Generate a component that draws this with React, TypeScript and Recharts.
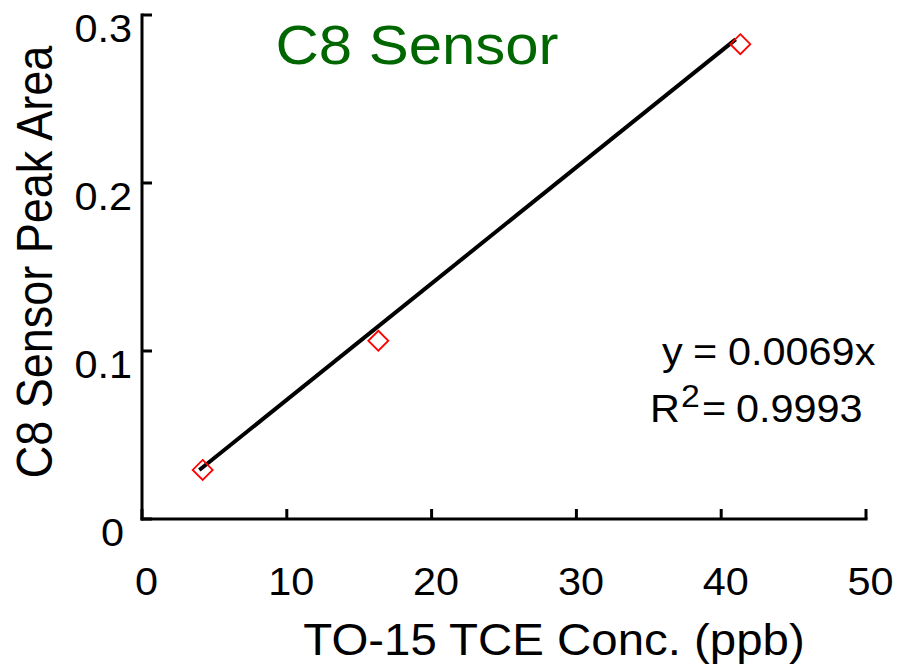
import React from 'react';
import { ComposedChart, XAxis, YAxis, Line, Scatter } from 'recharts';

const concentrations = [4.19, 16.32, 41.32];
const peakAreas = [0.0292, 0.1061, 0.2826];
const fitX = [3.96, 41.0];
const fitY = [0.0292, 0.2855];
const xTicks = [0, 10, 20, 30, 40, 50];
const yTicks = [0, 0.1, 0.2, 0.3];
const title = 'C8 Sensor';
const xLabel = 'TO-15 TCE Conc. (ppb)';
const yLabel = 'C8 Sensor Peak Area';
const eqLine = ['y', '=', '0.0069x'];
const r2Line = ['R', '2', '=', '0.9993'];

const points = concentrations.map((x, i) => ({ x, y: peakAreas[i] }));
const fitLine = fitX.map((x, i) => ({ x, y: fitY[i] }));

const FONT = '"Liberation Sans", Arial, Helvetica, sans-serif';
const SX = 1.09;

const T = ({ x, y, size, anchor = 'start', color = '#000', children }: any) => (
  <text
    transform={`translate(${x},${y}) scale(${SX},1)`}
    x={0}
    y={0}
    textAnchor={anchor}
    fontSize={size}
    fontFamily={FONT}
    fill={color}
  >
    {children}
  </text>
);

const XTick = (props: any) => {
  const { x, y, payload } = props;
  return (
    <g>
      <line x1={x} y1={y} x2={x} y2={y - 10} stroke="#000" strokeWidth={3} />
      <T x={x + 4.5} y={y + 76} size={38} anchor="middle">{String(payload.value)}</T>
    </g>
  );
};

const YTick = (props: any) => {
  const { x, y, payload } = props;
  const v = payload.value;
  const label = v === 0 ? '0' : String(Math.round(v * 10) / 10);
  const endX = v === 0 ? x - 18 : x - 10;
  return (
    <g>
      <line x1={x} y1={y} x2={x + 10} y2={y} stroke="#000" strokeWidth={3} />
      <T x={endX} y={y + 26.5} size={38} anchor="end">{label}</T>
    </g>
  );
};

const Diamond = (props: any) => {
  const { cx, cy } = props;
  const r = 10;
  return (
    <path
      d={`M${cx},${cy - r} L${cx + r},${cy} L${cx},${cy + r} L${cx - r},${cy} Z`}
      fill="none"
      stroke="#ff0000"
      strokeWidth={1.8}
    />
  );
};

export default function App() {
  return (
    <div style={{ position: 'absolute', left: 0, top: 0, width: 898, height: 668, background: '#fff' }}>
      <ComposedChart
        width={898}
        height={668}
        margin={{ top: 15, right: 32, bottom: 148, left: 141 }}
      >
        <XAxis
          type="number"
          dataKey="x"
          domain={[0, 50]}
          ticks={xTicks}
          height={1}
          tickSize={0}
          tickMargin={0}
          tickLine={false}
          axisLine={{ stroke: '#000', strokeWidth: 3, strokeLinecap: 'square' }}
          tick={<XTick />}
          interval={0}
          allowDataOverflow
        />
        <YAxis
          type="number"
          dataKey="y"
          domain={[0, 0.3]}
          ticks={yTicks}
          width={1}
          tickSize={0}
          tickMargin={0}
          tickLine={false}
          axisLine={{ stroke: '#000', strokeWidth: 3, strokeLinecap: 'square' }}
          tick={<YTick />}
          interval={0}
          allowDataOverflow
        />
        <Line
          data={fitLine}
          dataKey="y"
          type="linear"
          stroke="#000"
          strokeWidth={4}
          dot={false}
          activeDot={false}
          isAnimationActive={false}
        />
        <Scatter data={points} dataKey="y" shape={<Diamond />} isAnimationActive={false} />
        <g>
          <T x={417} y={64} size={55} anchor="middle" color="#006600">{title}</T>
          <T x={554} y={655} size={43.5} anchor="middle">{xLabel}</T>
          <text
            transform={`translate(52,262) scale(${SX},1) rotate(-90)`}
            x={0}
            y={0}
            textAnchor="middle"
            fontSize={45}
            fontFamily={FONT}
            fill="#000"
          >
            {yLabel}
          </text>
          <T x={662} y={365} size={38}>{eqLine[0]}</T>
          <T x={693} y={365} size={38}>{eqLine[1]}</T>
          <T x={728} y={365} size={38}>{eqLine[2]}</T>
          <T x={650} y={422} size={38}>{r2Line[0]}</T>
          <T x={681} y={407} size={31}>{r2Line[1]}</T>
          <T x={702} y={422} size={38}>{r2Line[2]}</T>
          <T x={736} y={422} size={38}>{r2Line[3]}</T>
        </g>
      </ComposedChart>
    </div>
  );
}
